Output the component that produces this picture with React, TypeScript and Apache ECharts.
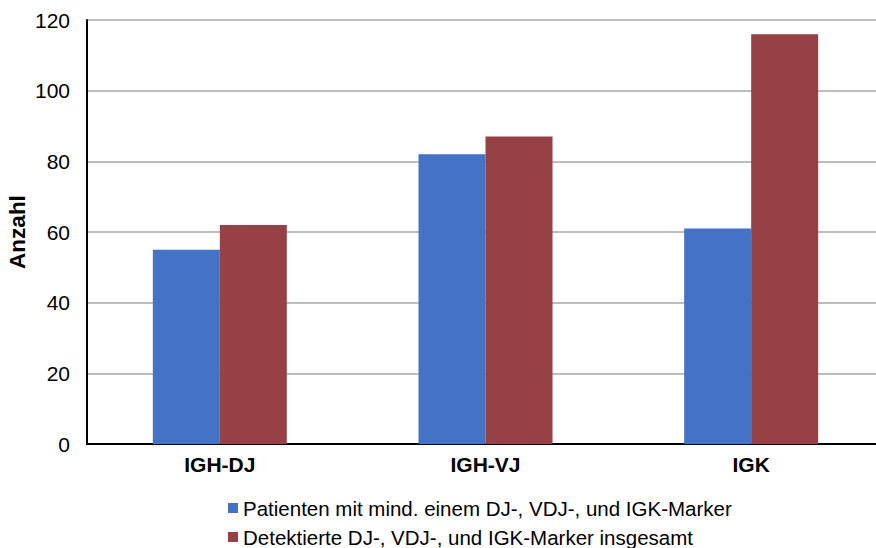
import React, { useEffect, useRef } from "react";
import * as echarts from "echarts";

const categories = ["IGH-DJ", "IGH-VJ", "IGK"];
const patienten = [55, 82, 61];
const detektiert = [62, 87, 116];
const seriesNames = [
  "Patienten mit mind. einem DJ-, VDJ-, und IGK-Marker",
  "Detektierte DJ-, VDJ-, und IGK-Marker insgesamt",
];

export default function App() {
  const ref = useRef<HTMLDivElement>(null);
  useEffect(() => {
    if (!ref.current) return;
    const chart = echarts.init(ref.current, undefined, { renderer: "svg" });
    const font = "'Liberation Sans', Arial, sans-serif";
    const legendBase = {
      orient: "horizontal",
      left: 228,
      padding: 0,
      itemWidth: 10,
      itemHeight: 10,
      icon: "rect",
      textStyle: { fontSize: 20.5, lineHeight: 22, color: "#000", fontFamily: font },
    };
    chart.setOption({
      animation: false,
      textStyle: { fontFamily: font },
      grid: { left: 87, right: -8, top: 20, bottom: 104, containLabel: false, outerBoundsMode: "none" },
      legend: [
        { ...legendBase, top: 497, data: [seriesNames[0]] },
        { ...legendBase, top: 526, data: [seriesNames[1]] },
      ],
      xAxis: {
        type: "category",
        data: categories,
        axisLine: { lineStyle: { color: "#000", width: 2 } },
        axisTick: { show: false },
        axisLabel: { fontSize: 21, fontWeight: "bold", color: "#000", margin: 10, fontFamily: font },
      },
      yAxis: {
        type: "value",
        min: 0,
        max: 120,
        interval: 20,
        name: "Anzahl",
        nameLocation: "middle",
        nameGap: 58,
        nameMoveOverlap: false,
        nameRotate: 90,
        nameTextStyle: { fontSize: 22.5, fontWeight: "bold", color: "#000", fontFamily: font },
        axisLine: { show: true, lineStyle: { color: "#000", width: 2 } },
        axisTick: { show: false },
        axisLabel: { fontSize: 21, color: "#000", margin: 17, fontFamily: font },
        splitLine: { lineStyle: { color: "#BEBEBE", width: 2 } },
      },
      series: [
        {
          name: seriesNames[0],
          type: "bar",
          data: patienten,
          barWidth: 67,
          barGap: "0%",
          itemStyle: { color: "#4472C4" },
        },
        {
          name: seriesNames[1],
          type: "bar",
          data: detektiert,
          barWidth: 67,
          barGap: "0%",
          itemStyle: { color: "#954145" },
        },
      ],
    });
    return () => chart.dispose();
  }, []);
  return <div ref={ref} style={{ width: 876, height: 548, position: "absolute", left: 0, top: 0 }} />;
}
